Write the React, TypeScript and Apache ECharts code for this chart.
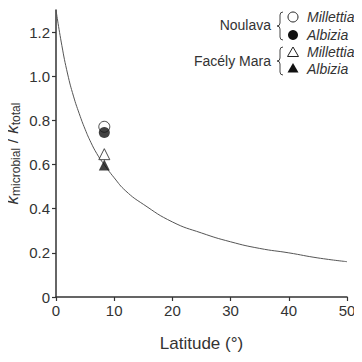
import React, { useEffect, useRef } from "react";
import * as echarts from "echarts";

// Fitted curve (latitude, ratio)
const curveLat = [0, 1, 2, 3, 4, 5, 6, 7, 8, 10, 12, 15, 20, 25, 30, 35, 40, 45, 50];
const curveVal = [1.3, 1.14, 1.01, 0.91, 0.83, 0.76, 0.7, 0.65, 0.61, 0.54, 0.48, 0.42, 0.34, 0.29, 0.25, 0.22, 0.2, 0.177, 0.16];

// Observations
const siteLat = 8.3;
const noulavaMillettia = [0.771];
const noulavaAlbizia = [0.745];
const facelyMillettia = [0.647];
const facelyAlbizia = [0.598];

const xTicks = [0, 10, 20, 30, 40, 50];
const yTicks = [0, 0.2, 0.4, 0.6, 0.8, 1.0, 1.2];

const FONT = "'Liberation Sans', Arial, Helvetica, sans-serif";
const INK = "#333";

export default function App() {
  const ref = useRef<HTMLDivElement>(null);
  useEffect(() => {
    if (!ref.current) return;
    echarts.graphic.registerShape(
      "brace",
      echarts.graphic.extendPath(
        "M6,0 Q3,0 3,3 L3,11 Q3,14 0,14 Q3,14 3,17 L3,25 Q3,28 6,28",
        {}
      )
    );
    const chart = echarts.init(ref.current, null, { renderer: "svg" });
    const pt = (vals: number[]) => vals.map((v) => [siteLat, v]);
    const symBase = { symbolSize: 11, z: 5 };
    const legendText = (x: number, y: number, t: string, italic: boolean, align: string) => ({
      type: "text",
      x,
      y,
      style: {
        text: t,
        font: `${italic ? "italic " : ""}14px ${FONT}`,
        fill: INK,
        align,
        verticalAlign: "middle",
      },
    });
    const braceStyle = { stroke: "#444", fill: "none", lineWidth: 1 };
    chart.setOption({
      animation: false,
      grid: { left: 56, right: 15, top: 10, bottom: 65, containLabel: false, outerBoundsMode: "none" },
      xAxis: {
        type: "value",
        min: 0,
        max: 50,
        interval: 10,
        name: "Latitude (°)",
        nameLocation: "middle",
        nameGap: 38,
        nameMoveOverlap: false,
        nameTextStyle: { fontFamily: FONT, fontSize: 17, color: INK },
        axisLine: { show: true, lineStyle: { color: INK, width: 1.5 } },
        axisTick: { show: true, length: 4, lineStyle: { color: INK, width: 1.2 }, customValues: xTicks },
        axisLabel: { fontFamily: FONT, fontSize: 15, color: INK, margin: 6, customValues: xTicks },
        splitLine: { show: false },
      },
      yAxis: {
        type: "value",
        min: 0,
        max: 1.3,
        interval: 0.2,
        name: "{k|k}{sub|microbial}{n| / }{k|k}{sub|total}",
        nameLocation: "middle",
        nameGap: 34,
        nameMoveOverlap: false,
        nameRotate: 90,
        nameTextStyle: {
          rich: {
            k: { fontFamily: FONT, fontSize: 17, fontStyle: "italic", color: INK },
            n: { fontFamily: FONT, fontSize: 17, color: INK },
            sub: { fontFamily: FONT, fontSize: 12, color: INK, verticalAlign: "bottom", padding: [7, 0, 0, 0] },
          },
        },
        axisLine: { show: true, lineStyle: { color: INK, width: 1.5 } },
        axisTick: { show: true, length: 4, lineStyle: { color: INK, width: 1.2 }, customValues: yTicks },
        axisLabel: {
          fontFamily: FONT,
          fontSize: 15,
          color: INK,
          margin: 6,
          customValues: yTicks,
          formatter: (v: number) => (v === 0 ? "0" : v.toFixed(1)),
        },
        splitLine: { show: false },
      },
      series: [
        {
          type: "line",
          data: curveLat.map((x, i) => [x, curveVal[i]]),
          smooth: true,
          showSymbol: false,
          lineStyle: { color: "#555", width: 1 },
          z: 2,
        },
        {
          type: "scatter",
          ...symBase,
          symbol: "circle",
          data: pt(noulavaMillettia),
          itemStyle: { color: "#fff", borderColor: "#222", borderWidth: 1 },
        },
        {
          type: "scatter",
          ...symBase,
          symbol: "circle",
          data: pt(noulavaAlbizia),
          itemStyle: { color: "#111" },
        },
        {
          type: "scatter",
          ...symBase,
          symbol: "triangle",
          data: pt(facelyMillettia),
          itemStyle: { color: "#fff", borderColor: "#222", borderWidth: 1 },
        },
        {
          type: "scatter",
          ...symBase,
          symbol: "triangle",
          data: pt(facelyAlbizia),
          itemStyle: { color: "#111" },
        },
      ],
      graphic: [
        legendText(271, 25, "Noulava", false, "right"),
        { type: "brace", x: 277, y: 12, style: braceStyle },
        { type: "circle", shape: { cx: 293, cy: 17, r: 5 }, style: { fill: "#fff", stroke: "#222", lineWidth: 1 } },
        { type: "circle", shape: { cx: 293, cy: 35, r: 5 }, style: { fill: "#111" } },
        legendText(307, 17, "Millettia", true, "left"),
        legendText(307, 35, "Albizia", true, "left"),
        legendText(271, 61, "Facély Mara", false, "right"),
        { type: "brace", x: 277, y: 47, style: braceStyle },
        {
          type: "polygon",
          shape: { points: [[293, 47], [287.5, 56.5], [298.5, 56.5]] },
          style: { fill: "#fff", stroke: "#222", lineWidth: 1 },
        },
        {
          type: "polygon",
          shape: { points: [[293, 63], [287.5, 72.5], [298.5, 72.5]] },
          style: { fill: "#111" },
        },
        legendText(307, 52, "Millettia", true, "left"),
        legendText(307, 69, "Albizia", true, "left"),
      ],
    });
    return () => chart.dispose();
  }, []);
  return <div ref={ref} style={{ width: 362, height: 362, margin: -8 }} />;
}
